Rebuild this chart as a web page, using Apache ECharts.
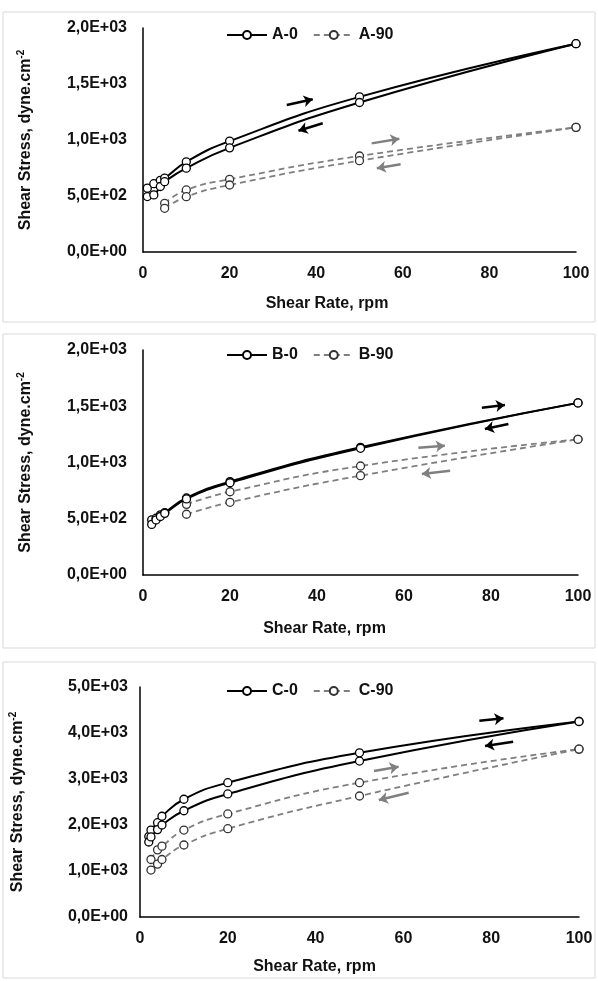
<!DOCTYPE html>
<html><head><meta charset="utf-8">
<script src="https://cdn.jsdelivr.net/npm/echarts@6/dist/echarts.min.js"></script>
<style>html,body{margin:0;padding:0;background:#fff}#c{width:598px;height:981px}</style>
</head><body><div id="c"></div>
<script>
// ---------- data ----------
const xTicks = [0, 20, 40, 60, 80, 100];
// Panel A
const rateA0 = [1, 2.5, 4, 5, 10, 20, 50, 100];
const a0Up   = [570, 610, 640, 660, 805, 990, 1385, 1860];
const a0Down = [495, 510, 585, 628, 748, 930, 1335, 1860];
const rateA90 = [5, 10, 20, 50, 100];
const a90Up   = [435, 554, 649, 857, 1113];
const a90Down = [390, 494, 598, 815, 1113];
// Panel B
const rateB0 = [2, 3, 4, 5, 10, 20, 50, 100];
const b0Up   = [490, 505, 535, 555, 685, 830, 1135, 1530];
const b0Down = [450, 490, 520, 548, 676, 820, 1126, 1530];
const rateB90 = [10, 20, 50, 100];
const b90Up   = [628, 740, 969, 1206];
const b90Down = [540, 646, 883, 1206];
// Panel C
const rateC0 = [2, 2.5, 4, 5, 10, 20, 50, 100];
const c0Up   = [1750, 1890, 2050, 2190, 2560, 2920, 3570, 4250];
const c0Down = [1630, 1740, 1900, 2000, 2310, 2675, 3390, 4250];
const rateC90 = [2.5, 4, 5, 10, 20, 50, 100];
const c90Up   = [1250, 1460, 1540, 1890, 2240, 2920, 3650];
const c90Down = [1020, 1150, 1250, 1565, 1920, 2630, 3650];
// direction arrows (data coordinates: [rate, stress])
const arrowsA = {blackUp: [[33.2,1313],[39.2,1363]], blackDown: [[41.5,1149],[35.9,1083]], greyUp: [[52.8,970],[59.2,1012]], greyDown: [[59.5,783],[54,747]]};
const arrowsB = {blackUp: [[77.9,1487],[83.2,1511]], blackDown: [[84,1342],[78.6,1298]], greyUp: [[63.3,1132],[69.4,1149]], greyDown: [[70.6,927],[64.1,898]]};
const arrowsC = {blackUp: [[77.3,4267],[82.8,4320]], blackDown: [[85,3811],[78.6,3717]], greyUp: [[53.3,3174],[58.9,3267]], greyDown: [[61.2,2702],[54.4,2543]]};
const yMaxA = 2000, yStepA = 500;
const yMaxB = 2000, yStepB = 500;
const yMaxC = 5000, yStepC = 1000;

// ---------- helpers ----------
const FONT = '"Liberation Sans", Arial, sans-serif';
const TXT = '#111';
function sci(v) {
  if (v === 0) return '0,0E+00';
  const e = Math.floor(Math.log10(v) + 1e-9);
  const m = (v / Math.pow(10, e)).toFixed(1).replace('.', ',');
  return m + 'E' + (e >= 0 ? '+' : '-') + String(Math.abs(e)).padStart(2, '0');
}
const zip = (xs, ys) => xs.map((x, i) => [x, ys[i]]);

const panels = [
  {grid: {left: 143, top: 28, width: 433, height: 224}, yMax: yMaxA, yStep: yStepA, yGap: 107, yLabM: 16, xGap: 44, xPad: 65, legTop: 22,
   names: ['A-0', 'A-90'], s0: [rateA0, a0Up, a0Down], s90: [rateA90, a90Up, a90Down], arrows: arrowsA},
  {grid: {left: 143, top: 350, width: 435, height: 225}, yMax: yMaxB, yStep: yStepB, yGap: 107, yLabM: 16, xGap: 46, xPad: 72, legTop: 342,
   names: ['B-0', 'B-90'], s0: [rateB0, b0Up, b0Down], s90: [rateB90, b90Up, b90Down], arrows: arrowsB},
  {grid: {left: 139, top: 687, width: 440, height: 230}, yMax: yMaxC, yStep: yStepC, yGap: 112, yLabM: 12, xGap: 42, xPad: 90, legTop: 678,
   names: ['C-0', 'C-90'], s0: [rateC0, c0Up, c0Down], s90: [rateC90, c90Up, c90Down], arrows: arrowsC}
];

const grid = [], xAxis = [], yAxis = [], legend = [], series = [];
panels.forEach((p, i) => {
  grid.push(p.grid);
  xAxis.push({
    type: 'value', gridIndex: i, min: xTicks[0], max: xTicks[xTicks.length - 1], interval: xTicks[1] - xTicks[0],
    axisLine: {show: true, lineStyle: {color: '#000', width: 1.5}}, axisTick: {show: false}, splitLine: {show: false},
    axisLabel: {color: TXT, fontSize: 16, fontWeight: 'bold', fontFamily: FONT, margin: 14},
    name: 'Shear Rate, rpm', nameLocation: 'middle', nameGap: p.xGap,
    nameTextStyle: {color: TXT, fontSize: 16, fontWeight: 'bold', fontFamily: FONT, padding: [0, p.xPad, 0, 0]}
  });
  yAxis.push({
    type: 'value', gridIndex: i, min: 0, max: p.yMax, interval: p.yStep,
    axisLine: {show: true, lineStyle: {color: '#000', width: 1.5}}, axisTick: {show: false}, splitLine: {show: false},
    axisLabel: {color: TXT, fontSize: 16, fontWeight: 'bold', fontFamily: FONT, margin: p.yLabM, formatter: sci},
    name: '{a|Shear Stress, dyne.cm}{s|-2}', nameLocation: 'middle', nameRotate: 90, nameGap: p.yGap,
    nameTextStyle: {color: TXT, fontFamily: FONT, rich: {
      a: {fontSize: 16, fontWeight: 'bold', fontFamily: FONT, color: TXT, lineHeight: 20},
      s: {fontSize: 10, fontWeight: 'bold', fontFamily: FONT, color: TXT, lineHeight: 10, verticalAlign: 'top'}
    }}
  });
  legend.push({
    left: 221, top: p.legTop, itemWidth: 40, itemHeight: 10, itemGap: 15,
    data: p.names, textStyle: {color: TXT, fontSize: 16, fontWeight: 'bold', fontFamily: FONT}
  });
  const solid = {name: p.names[0], type: 'line', xAxisIndex: i, yAxisIndex: i, smooth: true,
    symbol: 'circle', symbolSize: 8, showSymbol: true,
    lineStyle: {color: '#000', width: 2},
    itemStyle: {color: '#fff', borderColor: '#000', borderWidth: 1.3}, z: 3};
  const dashed = {name: p.names[1], type: 'line', xAxisIndex: i, yAxisIndex: i, smooth: true,
    symbol: 'circle', symbolSize: 8, showSymbol: true,
    lineStyle: {color: '#7f7f7f', width: 1.8, type: [6, 4]},
    itemStyle: {color: '#fff', borderColor: '#333', borderWidth: 1.3}, z: 2};
  series.push(Object.assign({}, solid, {data: zip(p.s0[0], p.s0[1])}));
  series.push(Object.assign({}, solid, {data: zip(p.s0[0], p.s0[2])}));
  series.push(Object.assign({}, dashed, {data: zip(p.s90[0], p.s90[1])}));
  series.push(Object.assign({}, dashed, {data: zip(p.s90[0], p.s90[2])}));
  const a = p.arrows;
  series.push({type: 'lines', coordinateSystem: 'cartesian2d', xAxisIndex: i, yAxisIndex: i,
    symbol: ['none', 'arrow'], symbolSize: 9, silent: true,
    lineStyle: {color: '#000', width: 2.5, opacity: 1},
    data: [{coords: a.blackUp}, {coords: a.blackDown}], z: 4});
  series.push({type: 'lines', coordinateSystem: 'cartesian2d', xAxisIndex: i, yAxisIndex: i,
    symbol: ['none', 'arrow'], symbolSize: 9, silent: true,
    lineStyle: {color: '#808080', width: 2.5, opacity: 1},
    data: [{coords: a.greyUp}, {coords: a.greyDown}], z: 4});
});

const chart = echarts.init(document.getElementById('c'), null, {renderer: 'canvas'});
chart.setOption({
  animation: false,
  backgroundColor: '#fff',
  graphic: [
    {type: 'rect', shape: {x: 3, y: 12, width: 592, height: 310}, style: {fill: 'none', stroke: '#d9d9d9', lineWidth: 1}, silent: true},
    {type: 'rect', shape: {x: 3, y: 334, width: 592, height: 314}, style: {fill: 'none', stroke: '#d9d9d9', lineWidth: 1}, silent: true},
    {type: 'rect', shape: {x: 3, y: 662, width: 592, height: 316}, style: {fill: 'none', stroke: '#d9d9d9', lineWidth: 1}, silent: true}
  ],
  grid, xAxis, yAxis, legend, series
});
</script>
</body></html>
